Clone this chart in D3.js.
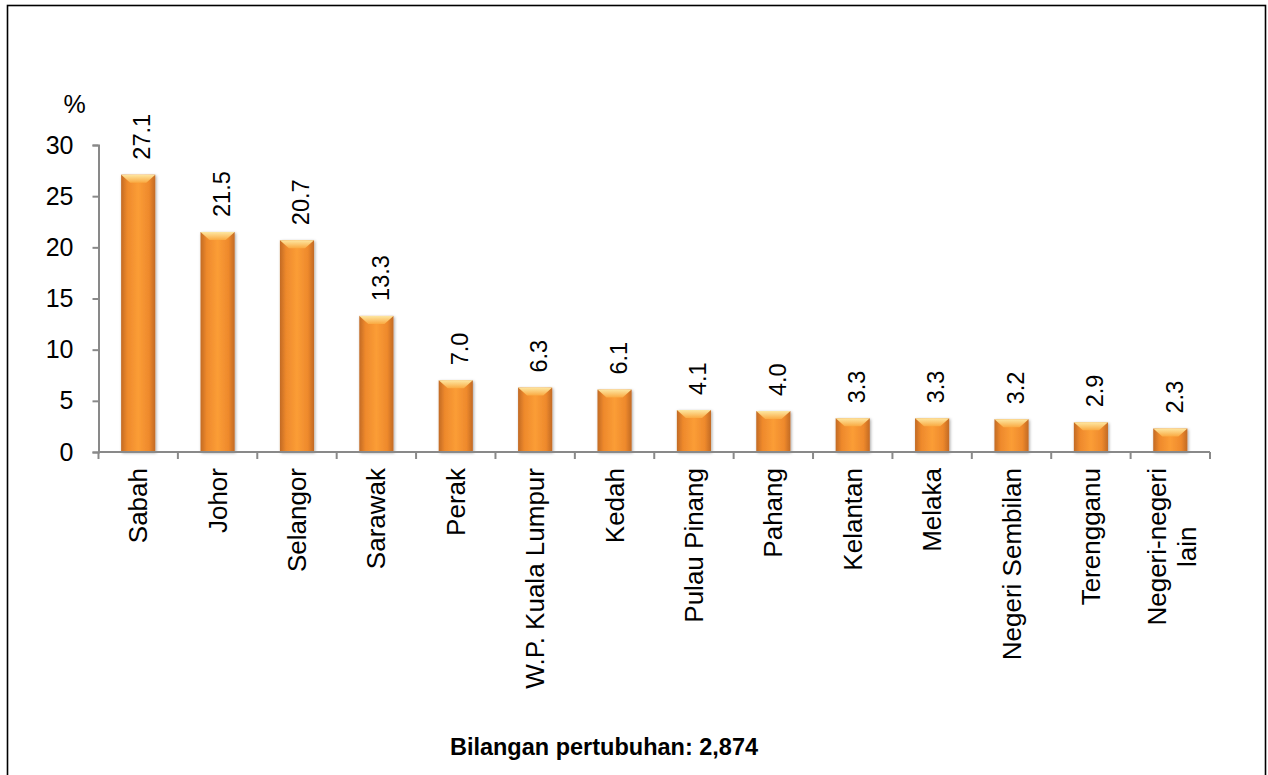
<!DOCTYPE html>
<html>
<head>
<meta charset="utf-8">
<script src="https://cdn.jsdelivr.net/npm/d3@7"></script>
<style>
    body { margin: 0; background: #fff; }
    svg { display: block; font-family: 'Liberation Sans', Arial, sans-serif; }
</style>
</head>
<body>
<div id="chart"></div>
<script>
// dati
const states = ['Sabah', 'Johor', 'Selangor', 'Sarawak', 'Perak', 'W.P. Kuala Lumpur', 'Kedah',
    'Pulau Pinang', 'Pahang', 'Kelantan', 'Melaka', 'Negeri Sembilan', 'Terengganu', 'Negeri-negeri\nlain'];
const percent = [27.1, 21.5, 20.7, 13.3, 7.0, 6.3, 6.1, 4.1, 4.0, 3.3, 3.3, 3.2, 2.9, 2.3];
const yTicks = [0, 5, 10, 15, 20, 25, 30];
const caption = 'Bilangan pertubuhan: 2,874';

const W = 1268, H = 775;
const margin = { top: 145, left: 98.5, right: 58, bottom: 323 };
const width = W - margin.left - margin.right,
    height = H - margin.top - margin.bottom;

const svg = d3.select('#chart').append('svg').attr('width', W).attr('height', H);

// cornice
svg.append('rect')
    .attr('x', 7.5).attr('y', 5.5).attr('width', 1258).attr('height', 790)
    .attr('fill', 'none').attr('stroke', '#000').attr('stroke-width', 1.6);

const defs = svg.append('defs');
const grad = defs.append('linearGradient').attr('id', 'barGrad').attr('x1', 0).attr('x2', 1).attr('y1', 0).attr('y2', 0);
grad.append('stop').attr('offset', '0%').attr('stop-color', '#c26a24');
grad.append('stop').attr('offset', '18%').attr('stop-color', '#ee892c');
grad.append('stop').attr('offset', '50%').attr('stop-color', '#fb9d36');
grad.append('stop').attr('offset', '82%').attr('stop-color', '#ee892c');
grad.append('stop').attr('offset', '100%').attr('stop-color', '#c26a24');

const cap = defs.append('linearGradient').attr('id', 'capGrad').attr('x1', 0).attr('x2', 0).attr('y1', 0).attr('y2', 1);
cap.append('stop').attr('offset', '0%').attr('stop-color', '#fde7a2');
cap.append('stop').attr('offset', '100%').attr('stop-color', '#faaa42');

const shadow = defs.append('filter').attr('id', 'shadow').attr('x', '-30%').attr('y', '-10%').attr('width', '160%').attr('height', '130%');
shadow.append('feDropShadow').attr('dx', 1).attr('dy', 1).attr('stdDeviation', 1.5)
    .attr('flood-color', '#000').attr('flood-opacity', 0.35);

const g = svg.append('g').attr('transform', `translate(${margin.left}, ${margin.top})`);

// scale
const x = d3.scaleBand().domain(states).range([0, width]).paddingInner(0.57).paddingOuter(0.285);
const y = d3.scaleLinear().domain([0, 30]).range([height, 0]);

// asse y
const yAxis = g.append('g')
    .call(d3.axisLeft(y).tickValues(yTicks).tickSize(6).tickPadding(19));
yAxis.select('.domain').attr('stroke', '#898989').attr('stroke-width', 2);
yAxis.selectAll('.tick line').attr('stroke', '#898989').attr('stroke-width', 2);
yAxis.selectAll('.tick text').attr('font-size', 25).attr('fill', '#000')
    .attr('font-family', "'Liberation Sans', Arial, sans-serif");

g.append('text').attr('x', -24).attr('y', -32).attr('font-size', 25).attr('text-anchor', 'middle').text('%');

// barre
const bars = g.append('g').selectAll('g.bar').data(states).join('g').attr('class', 'bar');
bars.append('rect')
    .attr('x', (d) => x(d))
    .attr('y', (d, i) => y(percent[i]))
    .attr('width', x.bandwidth())
    .attr('height', (d, i) => height - y(percent[i]))
    .attr('fill', 'url(#barGrad)')
    .attr('filter', 'url(#shadow)');
// bordo superiore chiaro
bars.append('path')
    .attr('d', (d, i) => {
        const x0 = x(d), x1 = x0 + x.bandwidth(), t = y(percent[i]);
        return `M${x0},${t} L${x1},${t} L${x1 - 9},${t + 8} L${x0 + 9},${t + 8} Z`;
    })
    .attr('fill', 'url(#capGrad)');

// asse x
const xAxisG = g.append('g').attr('transform', `translate(0, ${height})`);
xAxisG.append('line').attr('x1', 0).attr('x2', width).attr('y1', 0).attr('y2', 0)
    .attr('stroke', '#898989').attr('stroke-width', 2);
const step = x.step();
xAxisG.selectAll('line.tk').data(d3.range(states.length + 1)).join('line').attr('class', 'tk')
    .attr('x1', (i) => i * step).attr('x2', (i) => i * step)
    .attr('y1', 0).attr('y2', 7)
    .attr('stroke', '#898989').attr('stroke-width', 2);

// etichette categorie
states.forEach((s, i) => {
    const lines = s.split('\n');
    const cx = x(s) + x.bandwidth() / 2;
    const t = xAxisG.append('text')
        .attr('transform', `translate(${cx}, 16) rotate(-90)`)
        .attr('font-size', 26)
        .attr('fill', '#000');
    if (lines.length === 1) {
        t.attr('text-anchor', 'end').attr('dy', '0.35em').text(s);
    } else {
        t.attr('text-anchor', 'middle');
        lines.forEach((ln, j) => {
            t.append('tspan').attr('x', 0).attr('dy', j === 0 ? '-0.16em' : '1.15em').text(ln);
        });
        const L = t.select('tspan').node().getComputedTextLength();
        t.selectAll('tspan').attr('x', -L / 2);
    }
});

// etichette valori
g.append('g').selectAll('text').data(states).join('text')
    .attr('transform', (d, i) => `translate(${x(d) + x.bandwidth() / 2 + 4}, ${y(percent[i]) - 15}) rotate(-90)`)
    .attr('dy', '0.35em')
    .attr('font-size', 23.5)
    .attr('fill', '#000')
    .text((d, i) => percent[i].toFixed(1));

// didascalia
svg.append('text').attr('x', 604).attr('y', 755).attr('text-anchor', 'middle')
    .attr('font-size', 23.5).attr('font-weight', 'bold').text(caption);
</script>
</body>
</html>
